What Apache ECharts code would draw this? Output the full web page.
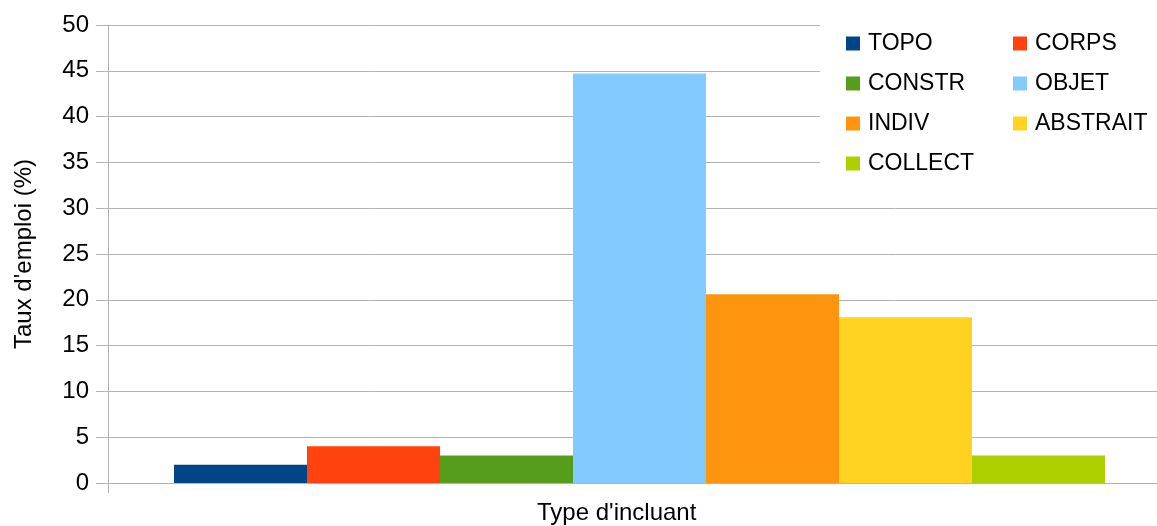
<!DOCTYPE html>
<html>
<head>
<meta charset="utf-8">
<script src="https://cdn.jsdelivr.net/npm/echarts@6/dist/echarts.min.js"></script>
<style>
html,body{margin:0;padding:0;background:#fff;}
#chart{width:1157px;height:526px;}
</style>
</head>
<body>
<div id="chart"></div>
<script>
const categories = ["Type d'incluant"];
const seriesNames = ['TOPO', 'CORPS', 'CONSTR', 'OBJET', 'INDIV', 'ABSTRAIT', 'COLLECT'];
const seriesValues = [2.0, 4.0, 3.0, 44.7, 20.6, 18.1, 3.0];
const seriesColors = ['#004586', '#ff420e', '#579d1c', '#83caff', '#ff950e', '#ffd320', '#aecf00'];
const legendCol1 = ['TOPO', 'CONSTR', 'INDIV', 'COLLECT'];
const legendCol2 = ['CORPS', 'OBJET', 'ABSTRAIT'];
const yAxisTitle = "Taux d'emploi (%)";
const xAxisTitle = "Type d'incluant";

const FONT = '"Liberation Sans", Arial, sans-serif';
const chart = echarts.init(document.getElementById('chart'), null, {renderer: 'canvas'});

const legendBase = {
  orient: 'vertical',
  top: 32,
  padding: 0,
  itemWidth: 14,
  itemHeight: 14,
  itemGap: 17,
  icon: 'rect',
  z: 10,
  textStyle: {fontFamily: FONT, fontSize: 23, color: '#000', lineHeight: 23, padding: [0, 0, 0, 3]}
};

chart.setOption({
  animation: false,
  backgroundColor: '#fff',
  textStyle: {fontFamily: FONT},
  title: {
    text: xAxisTitle,
    left: 537,
    top: 501,
    padding: 0,
    textStyle: {fontFamily: FONT, fontSize: 24, fontWeight: 'normal', color: '#000'}
  },
  graphic: [{
    type: 'rect',
    z: 1,
    shape: {x: 820, y: 15, width: 340, height: 170},
    style: {fill: '#fff'}
  }],
  legend: [
    Object.assign({}, legendBase, {left: 846, data: legendCol1}),
    Object.assign({}, legendBase, {left: 1013, data: legendCol2})
  ],
  grid: {left: 108, right: -14, top: 25, bottom: 43, containLabel: false, outerBoundsMode: 'none'},
  xAxis: {
    type: 'category',
    data: categories,
    boundaryGap: true,
    axisLine: {show: true, lineStyle: {color: '#b3b3b3', width: 1}},
    axisTick: {show: true, length: 10, lineStyle: {color: '#b3b3b3'}},
    axisLabel: {show: false},
    splitLine: {show: false}
  },
  yAxis: {
    type: 'value',
    min: 0,
    max: 50,
    interval: 5,
    name: yAxisTitle,
    nameLocation: 'middle',
    nameGap: 72,
    nameTextStyle: {fontFamily: FONT, fontSize: 24, color: '#000'},
    axisLine: {show: true, lineStyle: {color: '#b3b3b3', width: 1}},
    axisTick: {show: true, length: 12, inside: false, lineStyle: {color: '#b3b3b3'}},
    axisLabel: {margin: 19, fontFamily: FONT, fontSize: 24, color: '#000'},
    splitLine: {show: true, lineStyle: {color: '#b3b3b3', width: 1}}
  },
  series: seriesNames.map((name, i) => ({
    name: name,
    type: 'bar',
    data: [seriesValues[i]],
    barWidth: 133,
    barGap: '0%',
    itemStyle: {color: seriesColors[i]},
    z: 2
  }))
});
</script>
</body>
</html>
